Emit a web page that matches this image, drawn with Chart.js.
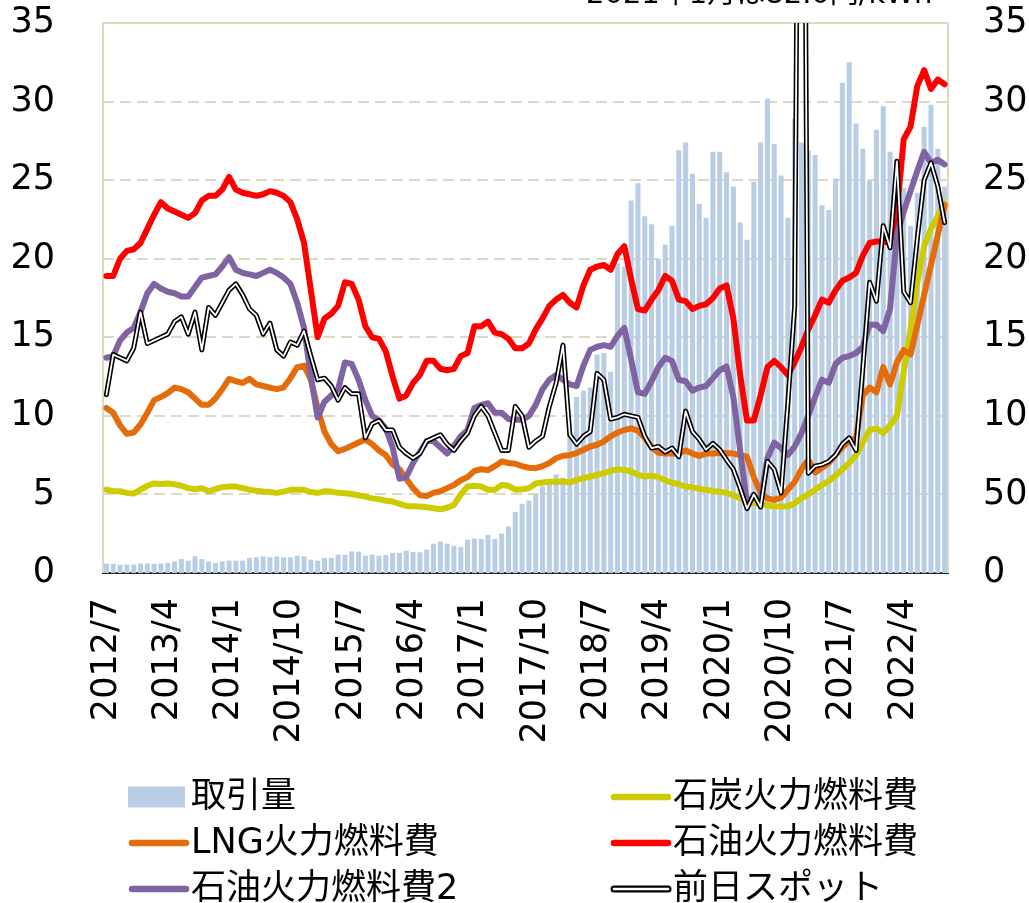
<!DOCTYPE html>
<html>
<head>
<meta charset="utf-8">
<script src="https://cdn.jsdelivr.net/npm/chart.js@4"></script>
<style>
html,body{margin:0;padding:0;background:#fff;overflow:hidden;}
#wrap{position:relative;width:1029px;height:903px;}
canvas{display:block;}
</style>
</head>
<body>
<div id="wrap"><canvas id="c" width="1029" height="903"></canvas></div>
<script>
// ---- categories (monthly, 2012/7 - 2022/10) ----
const months = [
 '2012/7','2012/8','2012/9','2012/10','2012/11','2012/12',
 '2013/1','2013/2','2013/3','2013/4','2013/5','2013/6','2013/7','2013/8','2013/9','2013/10','2013/11','2013/12',
 '2014/1','2014/2','2014/3','2014/4','2014/5','2014/6','2014/7','2014/8','2014/9','2014/10','2014/11','2014/12',
 '2015/1','2015/2','2015/3','2015/4','2015/5','2015/6','2015/7','2015/8','2015/9','2015/10','2015/11','2015/12',
 '2016/1','2016/2','2016/3','2016/4','2016/5','2016/6','2016/7','2016/8','2016/9','2016/10','2016/11','2016/12',
 '2017/1','2017/2','2017/3','2017/4','2017/5','2017/6','2017/7','2017/8','2017/9','2017/10','2017/11','2017/12',
 '2018/1','2018/2','2018/3','2018/4','2018/5','2018/6','2018/7','2018/8','2018/9','2018/10','2018/11','2018/12',
 '2019/1','2019/2','2019/3','2019/4','2019/5','2019/6','2019/7','2019/8','2019/9','2019/10','2019/11','2019/12',
 '2020/1','2020/2','2020/3','2020/4','2020/5','2020/6','2020/7','2020/8','2020/9','2020/10','2020/11','2020/12',
 '2021/1','2021/2','2021/3','2021/4','2021/5','2021/6','2021/7','2021/8','2021/9','2021/10','2021/11','2021/12',
 '2022/1','2022/2','2022/3','2022/4','2022/5','2022/6','2022/7','2022/8','2022/9','2022/10'
];

// ---- series (right axis) ----
const volume = [
 6.0, 5.8, 5.2, 5.4, 5.4, 6.0, 6.0, 5.8, 6.0, 6.4,
 7.4, 8.9, 7.9, 10.6, 8.9, 7.4, 6.4, 7.4, 7.9, 7.9,
 7.9, 9.6, 10.0, 10.6, 10.0, 10.6, 10.0, 10.0, 11.0, 10.6,
 8.5, 7.9, 9.6, 9.6, 11.7, 11.7, 13.8, 13.6, 11.0, 11.7,
 11.0, 11.5, 12.8, 12.8, 14.2, 13.4, 13.2, 14.9, 18.7, 20.0,
 18.7, 17.4, 16.6, 21.2, 21.9, 21.7, 24.2, 21.7, 25.1, 29.7,
 38.9, 44.0, 46.1, 49.9, 55.2, 57.0, 62.7, 60.6, 88, 112,
 116, 118, 139, 140, 128, 197, 195, 237, 248, 227,
 222, 200, 209, 221, 269, 274, 254, 235, 226, 268,
 268, 255, 246, 223, 212, 249, 274, 302, 273, 253,
 226, 289, 274, 269, 266, 234, 231, 251, 312, 325,
 286, 270, 250, 282, 297, 268, 260, 245, 221, 242,
 284, 298, 270, 246
];

// ---- series (left axis, 円/kWh) ----
const coal = [
 5.3, 5.2, 5.2, 5.1, 5.05, 5.3, 5.55, 5.7, 5.67, 5.7,
 5.65, 5.55, 5.4, 5.33, 5.4, 5.2, 5.33, 5.46, 5.5, 5.5,
 5.4, 5.3, 5.23, 5.18, 5.16, 5.1, 5.18, 5.29, 5.3, 5.29,
 5.15, 5.1, 5.2, 5.18, 5.1, 5.08, 5.03, 4.95, 4.86, 4.75,
 4.7, 4.6, 4.55, 4.4, 4.27, 4.25, 4.23, 4.18, 4.12, 4.06,
 4.15, 4.33, 5.0, 5.5, 5.55, 5.5, 5.3, 5.3, 5.6, 5.55,
 5.3, 5.33, 5.4, 5.7, 5.76, 5.8, 5.8, 5.82, 5.76, 5.93,
 6.03, 6.14, 6.25, 6.35, 6.5, 6.6, 6.56, 6.46, 6.25, 6.14,
 6.2, 6.1, 5.9, 5.75, 5.65, 5.5, 5.45, 5.35, 5.3, 5.2,
 5.18, 5.1, 4.95, 4.75, 4.6, 4.45, 4.4, 4.3, 4.25, 4.23,
 4.23, 4.44, 4.76, 5.0, 5.3, 5.6, 5.85, 6.2, 6.6, 7.0,
 7.5, 8.3, 9.1, 9.2, 8.9, 9.4, 10.0, 12.8, 15.5, 18.5,
 20.8, 21.9, 22.7, 23.5
];
const lng = [
 10.5, 10.2, 9.4, 8.86, 8.94, 9.45, 10.2, 11.0, 11.2, 11.45,
 11.8, 11.7, 11.5, 11.1, 10.7, 10.7, 11.1, 11.7, 12.35, 12.2,
 12.1, 12.35, 12.0, 11.9, 11.8, 11.7, 11.8, 12.4, 13.1, 13.2,
 12.3, 10.5, 9.0, 8.2, 7.75, 7.9, 8.1, 8.3, 8.5, 8.2,
 7.8, 7.5, 6.9, 6.6, 6.0, 5.4, 4.95, 4.9, 5.1, 5.2,
 5.4, 5.6, 5.9, 6.1, 6.5, 6.6, 6.55, 6.8, 7.1, 7.0,
 6.95, 6.8, 6.7, 6.67, 6.8, 7.0, 7.3, 7.46, 7.5, 7.63,
 7.84, 8.05, 8.16, 8.37, 8.7, 8.94, 9.1, 9.2, 9.05, 8.6,
 8.0, 7.65, 7.6, 7.6, 7.6, 7.8, 7.6, 7.46, 7.6, 7.6,
 7.63, 7.63, 7.6, 7.5, 7.4, 6.1, 5.1, 4.75, 4.65, 4.8,
 5.3, 5.8, 6.6, 7.2, 6.4, 6.7, 7.0, 7.5, 8.0, 8.4,
 8.6, 11.3, 11.8, 11.5, 13.1, 12.0, 13.4, 14.2, 13.9, 15.8,
 17.7, 19.6, 21.5, 23.4
];
const oil = [
 18.9, 18.9, 20.0, 20.5, 20.6, 21.0, 21.9, 22.8, 23.6, 23.2,
 23.0, 22.8, 22.6, 22.9, 23.7, 24.0, 24.0, 24.4, 25.2, 24.4,
 24.2, 24.1, 24.0, 24.1, 24.3, 24.2, 24.0, 23.6, 22.5, 21.0,
 18.0, 15.0, 16.2, 16.5, 17.0, 18.5, 18.4, 17.4, 15.7, 15.0,
 14.9, 14.1, 12.5, 11.1, 11.3, 12.1, 12.6, 13.5, 13.5, 13.0,
 12.9, 13.0, 13.8, 14.0, 15.7, 15.7, 16.0, 15.3, 15.2, 14.9,
 14.3, 14.3, 14.6, 15.5, 16.2, 17.0, 17.4, 17.7, 17.2, 16.9,
 18.3, 19.3, 19.5, 19.6, 19.3, 20.3, 20.8, 18.7, 16.8, 16.7,
 17.4, 18.0, 18.9, 18.6, 17.4, 17.3, 16.8, 17.0, 17.1, 17.5,
 18.1, 18.3, 16.2, 12.6, 9.7, 9.7, 11.3, 13.1, 13.5, 13.1,
 12.6, 13.4, 14.4, 15.5, 16.4, 17.4, 17.2, 18.0, 18.6, 18.8,
 19.1, 20.2, 21.0, 21.1, 21.1, 21.0, 23.0, 27.6, 28.4, 31.0,
 32.0, 30.8, 31.4, 31.1
];
const oil2 = [
 13.7, 13.8, 14.8, 15.3, 15.6, 16.6, 17.8, 18.4, 18.1, 17.9,
 17.8, 17.6, 17.6, 18.2, 18.8, 18.9, 19.0, 19.5, 20.1, 19.3,
 19.1, 19.0, 18.9, 19.1, 19.3, 19.1, 18.8, 18.4, 17.2, 15.6,
 12.5, 9.9, 10.9, 11.3, 11.7, 13.4, 13.3, 12.3, 11.0, 10.0,
 9.7, 9.2, 8.0, 6.0, 6.1, 7.0, 7.7, 8.4, 8.4, 8.0,
 7.6, 8.1, 8.7, 9.1, 10.5, 10.7, 10.8, 10.2, 10.2, 9.8,
 9.75, 9.75, 10.0, 10.7, 11.7, 12.3, 12.6, 12.3, 12.0, 11.9,
 13.2, 14.2, 14.4, 14.5, 14.4, 15.1, 15.6, 13.6, 11.5, 11.4,
 12.2, 13.1, 13.7, 13.5, 12.3, 12.2, 11.6, 11.8, 11.9, 12.4,
 12.9, 13.15, 11.2, 7.8, 4.4, 4.9, 4.6, 7.3, 8.3, 7.95,
 7.5, 8.05, 8.9, 10.0, 11.2, 12.3, 12.1, 13.3, 13.7, 13.8,
 14.0, 14.4, 15.8, 15.8, 15.4, 16.8, 21.5, 23.0, 24.3, 25.6,
 26.8, 26.1, 26.3, 26.0
];
const spot = [
 11.35, 13.9, 13.7, 13.5, 14.3, 16.6, 14.6, 14.8, 15.0, 15.2,
 16.0, 16.3, 15.2, 16.6, 14.2, 16.9, 16.4, 17.2, 18.0, 18.4,
 17.7, 16.8, 16.4, 15.2, 15.9, 14.2, 13.8, 14.7, 14.5, 15.4,
 13.8, 12.3, 12.4, 11.9, 11.0, 11.8, 11.4, 11.4, 8.6, 9.5,
 9.7, 9.1, 9.1, 8.0, 7.6, 7.3, 7.6, 8.4, 8.6, 8.8,
 8.2, 7.8, 8.4, 8.9, 10.0, 10.6, 10.0, 8.9, 7.8, 7.8,
 10.6, 10.0, 8.0, 8.4, 8.7, 10.6, 12.1, 14.5, 8.8, 8.2,
 8.7, 9.0, 12.7, 12.3, 9.8, 9.9, 10.1, 10.0, 9.9, 8.7,
 7.95, 8.05, 7.7, 7.95, 7.4, 10.3, 9.0, 8.5, 7.85, 8.25,
 7.85, 7.2, 6.6, 5.4, 4.1, 5.0, 4.2, 7.1, 6.6, 5.1,
 10.8, 17.0, 82.0, 6.35, 6.8, 6.9, 7.1, 7.5, 8.2, 8.6,
 7.8, 13.0, 18.5, 17.3, 22.1, 20.7, 26.2, 17.9, 17.2, 21.3,
 25.0, 26.1, 24.6, 22.3
];

// ---- tick settings ----
const leftAxisMax = 35, leftAxisStep = 5;
const rightAxisMax = 350, rightAxisStep = 50;
const labelEvery = 9;
const noteText = '2021年1月は82.0円/kWh';

// ---- styles ----
const FONT = '"DejaVu Sans", "Noto Sans CJK JP", sans-serif';
const GRID = '#DDD9C3';
const C_BAR = '#B9CDE5', C_COAL = '#CCCC00', C_LNG = '#E46C0A', C_OIL = '#FF0000', C_OIL2 = '#8064A2';

const framePlugin = {
  id: 'frame',
  beforeDatasetsDraw(chart) {
    const {ctx, chartArea: a} = chart;
    ctx.save();
    ctx.strokeStyle = GRID;
    ctx.lineWidth = 2;
    ctx.beginPath();
    ctx.moveTo(a.left, a.bottom);
    ctx.lineTo(a.left, a.top);
    ctx.lineTo(a.right, a.top);
    ctx.lineTo(a.right, a.bottom);
    ctx.stroke();
    ctx.restore();
  }
};

const notePlugin = {
  id: 'note',
  afterDraw(chart) {
    const ctx = chart.ctx;
    ctx.save();
    ctx.font = '29px ' + FONT;
    ctx.fillStyle = '#000';
    ctx.textAlign = 'left';
    ctx.textBaseline = 'alphabetic';
    ctx.fillText(noteText, 586, 3);
    ctx.restore();
  }
};

const legendPlugin = {
  id: 'gridLegend',
  afterDraw(chart) {
    const ctx = chart.ctx;
    const ds = chart.data.datasets.filter(d => d.legendRank !== undefined)
      .sort((a, b) => a.legendRank - b.legendRank);
    const colX = [128, 610];
    const rowY = [797, 843, 889];
    const symW = 60;
    ctx.save();
    ctx.font = '35px ' + FONT;
    ctx.textBaseline = 'middle';
    ctx.textAlign = 'left';
    ds.forEach((d, k) => {
      const x = colX[k % 2], y = rowY[Math.floor(k / 2)];
      if (d.legendStyle === 'box') {
        ctx.fillStyle = d.backgroundColor;
        ctx.fillRect(x, y - 10.5, 57, 21);
      } else if (d.legendStyle === 'double') {
        ctx.lineCap = 'round';
        ctx.strokeStyle = '#000'; ctx.lineWidth = 7;
        ctx.beginPath(); ctx.moveTo(x + 4, y); ctx.lineTo(x + symW - 2, y); ctx.stroke();
        ctx.strokeStyle = '#fff'; ctx.lineWidth = 2.6;
        ctx.beginPath(); ctx.moveTo(x + 4, y); ctx.lineTo(x + symW - 2, y); ctx.stroke();
      } else {
        ctx.lineCap = 'round';
        ctx.strokeStyle = d.borderColor; ctx.lineWidth = 6.5;
        ctx.beginPath(); ctx.moveTo(x + 4, y); ctx.lineTo(x + symW - 2, y); ctx.stroke();
      }
      ctx.fillStyle = '#000';
      ctx.fillText(d.label, x + symW + 3, y + 1);
    });
    ctx.restore();
  }
};

const lineBase = {type: 'line', yAxisID: 'y', pointRadius: 0, pointHoverRadius: 0, tension: 0,
  borderJoinStyle: 'round', borderCapStyle: 'round', fill: false};

Chart.defaults.color = '#000';
Chart.defaults.font.family = FONT;

function fixV(width) {
  return s => { s.width = width; s.paddingTop = 0; s.paddingBottom = 0; };
}

new Chart(document.getElementById('c'), {
  type: 'bar',
  data: {
    labels: months,
    datasets: [
      Object.assign({}, lineBase, {label: '前日スポット', data: spot, borderColor: '#FFFFFF', borderWidth: 1.8, order: 0}),
      Object.assign({}, lineBase, {label: '前日スポット', data: spot, borderColor: '#000000', borderWidth: 5, order: 1, legendRank: 5, legendStyle: 'double'}),
      Object.assign({}, lineBase, {label: '石油火力燃料費2', data: oil2, borderColor: C_OIL2, borderWidth: 6, order: 2, legendRank: 4, legendStyle: 'line'}),
      Object.assign({}, lineBase, {label: '石油火力燃料費', data: oil, borderColor: C_OIL, borderWidth: 6, order: 3, legendRank: 3, legendStyle: 'line'}),
      Object.assign({}, lineBase, {label: 'LNG火力燃料費', data: lng, borderColor: C_LNG, borderWidth: 6, order: 4, legendRank: 2, legendStyle: 'line'}),
      Object.assign({}, lineBase, {label: '石炭火力燃料費', data: coal, borderColor: C_COAL, borderWidth: 6, order: 5, legendRank: 1, legendStyle: 'line'}),
      {type: 'bar', label: '取引量', data: volume, backgroundColor: C_BAR, yAxisID: 'y2', order: 6,
       barPercentage: 0.74, categoryPercentage: 1.0, legendRank: 0, legendStyle: 'box'}
    ]
  },
  options: {
    responsive: false,
    animation: false,
    devicePixelRatio: 1,
    events: [],
    layout: {padding: {top: 23, bottom: 150, left: 0, right: 0}},
    plugins: {legend: {display: false}, tooltip: {enabled: false}, title: {display: false}},
    scales: {
      x: {
        type: 'category',
        offset: true,
        grid: {display: false, drawTicks: false, offset: true},
        border: {display: true, color: '#262626', width: 2},
        ticks: {
          autoSkip: false, minRotation: 90, maxRotation: 90, padding: 25,
          color: '#000', font: {size: 35, family: FONT},
          callback: function (v, i) { return i % labelEvery === 0 ? months[i] : ''; }
        },
        afterFit: s => { s.height = 180; s.paddingLeft = 0; s.paddingRight = 0; }
      },
      y: {
        position: 'left', min: 0, max: leftAxisMax,
        ticks: {stepSize: leftAxisStep, padding: 48, color: '#000', font: {size: 35, family: FONT}},
        grid: {
          drawTicks: false, lineWidth: 2,
          color: c => (c.tick && (c.tick.value === 0 || c.tick.value === leftAxisMax)) ? 'rgba(0,0,0,0)' : GRID
        },
        border: {display: false, dash: [11, 6]},
        afterFit: fixV(103)
      },
      y2: {
        position: 'right', min: 0, max: rightAxisMax,
        ticks: {stepSize: rightAxisStep, padding: 35, color: '#000', font: {size: 35, family: FONT}},
        grid: {display: false, drawTicks: false, drawOnChartArea: false},
        border: {display: false},
        afterFit: fixV(81)
      }
    }
  },
  plugins: [framePlugin, notePlugin, legendPlugin]
});
</script>
</body>
</html>
